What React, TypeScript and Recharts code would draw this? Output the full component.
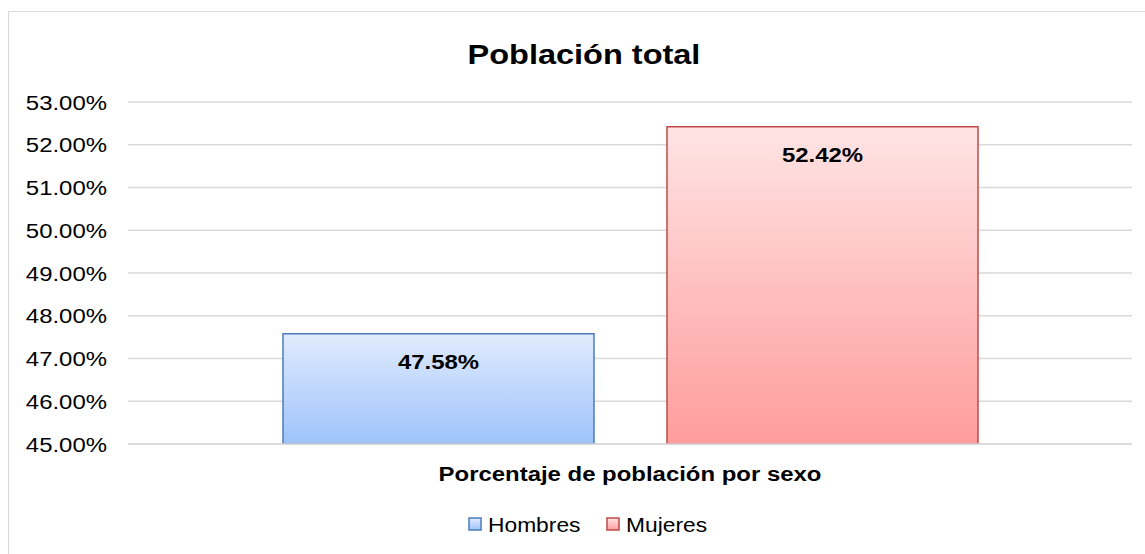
import { Bar, BarChart, CartesianGrid, LabelList, XAxis, YAxis } from "recharts";

const categories = ["Porcentaje de población por sexo"];
const hombres = [47.58];
const mujeres = [52.42];
const yTicks = [45, 46, 47, 48, 49, 50, 51, 52, 53];

const SERIES = [
  { key: "Hombres", values: hombres, fill: "url(#gradHombres)", stroke: "#4a7ebb", top: "#e1ebfd", bottom: "#9ec3fb" },
  { key: "Mujeres", values: mujeres, fill: "url(#gradMujeres)", stroke: "#be4b48", top: "#ffe4e4", bottom: "#ff9c9c" },
];

const FONT = "'Liberation Sans', Arial, sans-serif";
// the reference text is a bit wider than plain Arial
const SX = 1.14;

const data = categories.map((name, i) => {
  const row: Record<string, string | number> = { name };
  for (const s of SERIES) row[s.key] = s.values[i];
  return row;
});

const fmt = (v: number) => `${v.toFixed(2)}%`;

function YTick({ x, y, payload }: any) {
  return (
    <g transform={`translate(${x},${y}) scale(${SX},1)`}>
      <text x={0} y={0} dy={7.5} textAnchor="end" fontFamily={FONT} fontSize={21} fill="#000">
        {fmt(payload.value)}
      </text>
    </g>
  );
}

function XTick({ x, y, payload }: any) {
  return (
    <g transform={`translate(${x},${y}) scale(${SX},1)`}>
      <text x={0} y={0} dy={37} textAnchor="middle" fontFamily={FONT} fontSize={21} fontWeight="bold" fill="#000">
        {payload.value}
      </text>
    </g>
  );
}

function BarLabel({ x, y, width, value }: any) {
  const cx = x + width / 2;
  return (
    <g transform={`translate(${cx},${y + 35}) scale(${SX},1)`}>
      <text x={0} y={0} textAnchor="middle" fontFamily={FONT} fontSize={21} fontWeight="bold" fill="#000">
        {fmt(value)}
      </text>
    </g>
  );
}

const legendPos = [469, 607];

export default function App() {
  return (
    <div style={{ position: "absolute", left: 0, top: 0, width: 1145, height: 554, background: "#fff", overflow: "hidden" }}>
      <div
        style={{
          position: "absolute",
          left: 8,
          top: 11,
          width: 1145,
          height: 560,
          borderLeft: "1.5px solid #d9d9d9",
          borderTop: "1.5px solid #d9d9d9",
        }}
      />
      <div style={{ position: "absolute", left: 0, top: 0 }}>
        <BarChart
          width={1145}
          height={554}
          data={data}
          margin={{ top: 102, right: 13, left: 0, bottom: 70 }}
          barGap={73}
        >
          <defs>
            {SERIES.map((s) => (
              <linearGradient key={s.key} id={`grad${s.key}`} x1="0" y1="0" x2="0" y2="1">
                <stop offset="0%" stopColor={s.top} />
                <stop offset="100%" stopColor={s.bottom} />
              </linearGradient>
            ))}
          </defs>
          <CartesianGrid vertical={false} stroke="#d9d9d9" strokeWidth={1.5} />
          <XAxis
            dataKey="name"
            height={40}
            axisLine={{ stroke: "#d9d9d9", strokeWidth: 1.5 }}
            tickLine={false}
            tickSize={0}
            tickMargin={0}
            tick={<XTick />}
          />
          <YAxis
            width={128}
            domain={[45, 53]}
            ticks={yTicks}
            allowDataOverflow
            axisLine={false}
            tickLine={false}
            tickSize={0}
            tickMargin={21}
            tick={<YTick />}
          />
          {SERIES.map((s) => (
            <Bar
              key={s.key}
              dataKey={s.key}
              barSize={311}
              fill={s.fill}
              stroke={s.stroke}
              strokeWidth={1.5}
              isAnimationActive={false}
            >
              <LabelList dataKey={s.key} content={<BarLabel />} />
            </Bar>
          ))}
        </BarChart>
      </div>
      <svg width={1145} height={554} style={{ position: "absolute", left: 0, top: 0, pointerEvents: "none" }}>
        <g transform={`translate(584,64) scale(${SX},1)`}>
          <text x={0} y={0} textAnchor="middle" fontFamily={FONT} fontSize={28.5} fontWeight="bold" fill="#000">
            Población total
          </text>
        </g>
        {SERIES.map((s, i) => (
          <g key={s.key}>
            <rect x={legendPos[i]} y={518} width={12} height={12} fill={s.fill} stroke={s.stroke} strokeWidth={1.5} />
            <g transform={`translate(${legendPos[i] + 19},532) scale(${SX},1)`}>
              <text x={0} y={0} fontFamily={FONT} fontSize={20} fill="#000">
                {s.key}
              </text>
            </g>
          </g>
        ))}
        <defs>
          {SERIES.map((s) => (
            <linearGradient key={s.key} id={`grad${s.key}`} x1="0" y1="0" x2="0" y2="1">
              <stop offset="0%" stopColor={s.top} />
              <stop offset="100%" stopColor={s.bottom} />
            </linearGradient>
          ))}
        </defs>
      </svg>
    </div>
  );
}
